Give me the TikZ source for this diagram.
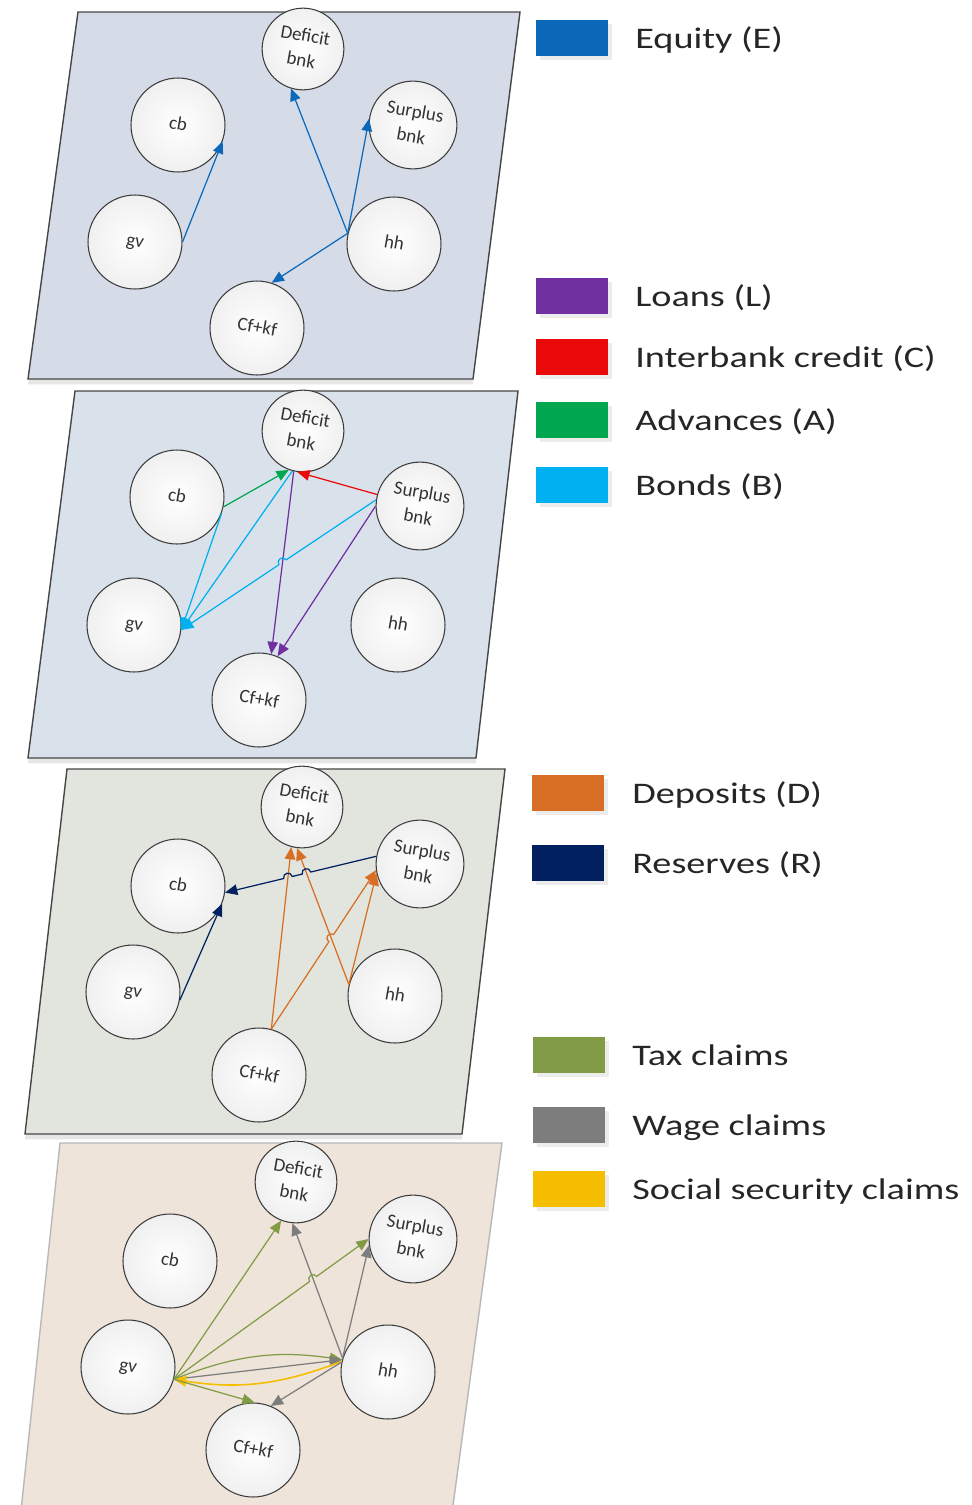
\documentclass[tikz,border=0pt]{standalone}
\usepackage{fontspec}
\setmainfont{Carlito}
\newfontfamily\legendfont[FakeStretch=1.28]{Carlito}
\usepackage{graphicx}
\usepackage{tikz}
\usetikzlibrary{arrows.meta, calc, intersections, shadows}
\definecolor{panelone}{RGB}{214,219,232}
\definecolor{paneltwo}{RGB}{217,225,235}
\definecolor{panelthree}{RGB}{226,229,221}
\definecolor{panelfour}{RGB}{239,228,217}
\definecolor{panelline}{RGB}{70,70,70}
\definecolor{circline}{RGB}{60,60,60}
\definecolor{equitycolor}{RGB}{12,104,184}
\definecolor{loancolor}{RGB}{112,48,160}
\definecolor{interbankcolor}{RGB}{235,10,10}
\definecolor{advancecolor}{RGB}{0,166,80}
\definecolor{bondcolor}{RGB}{0,176,240}
\definecolor{depositcolor}{RGB}{215,110,35}
\definecolor{reservecolor}{RGB}{0,32,96}
\definecolor{taxcolor}{RGB}{130,155,70}
\definecolor{wagecolor}{RGB}{125,125,125}
\definecolor{socialcolor}{RGB}{245,190,0}

% tilted label inside a circle
\newcommand{\tilt}[1]{\rotatebox{-10}{\begin{tabular}{@{}c@{}}#1\end{tabular}}}
% line jump at a crossing: name, crossing, from, to, side (90 or 270)
\newcommand{\jumpat}[5]{%
    \coordinate (#1s) at ($(#2)!2.5pt!(#3)$);
    \coordinate (#1e) at ($(#2)!2.5pt!(#4)$);
    \coordinate (#1a) at ($(#1s)!3.3pt!#5:(#2)$);
    \coordinate (#1b) at ($(#1e)!3.3pt!-#5:(#2)$);
}

\begin{document}
\begin{tikzpicture}[
    x=0.02cm, y=-0.02cm,
    panel/.style={draw=panelline, line width=0.8pt, drop shadow={opacity=0.2, shadow xshift=0pt, shadow yshift=-3pt}},
    sector/.style={circle, draw=circline, line width=0.6pt, inner color=white, outer color=gray!12, minimum size=1.88cm, inner sep=0pt, text=black!80, font=\fontsize{10.8}{14.2}\selectfont},
    bank/.style={sector, minimum size=1.38cm},
    arrow/.style={-{Triangle[length=7pt, width=6pt]}, line width=0.7pt},
    swatch/.style={minimum width=1.44cm, minimum height=0.72cm, inner sep=0pt, drop shadow={opacity=0.15, shadow xshift=2pt, shadow yshift=-2pt}},
    legendtext/.style={anchor=base west, inner sep=0pt, text=black!85, font=\legendfont\fontsize{17}{20}\selectfont}
]
    \useasboundingbox (0,0) rectangle (971,1505);

    % Panels
    \path[panel, fill=panelone] (78,12) -- (520,12) -- (473,379) -- (28,379) -- cycle;
    \path[panel, fill=paneltwo] (75,391) -- (518,391) -- (476,758) -- (28,758) -- cycle;
    \path[panel, fill=panelthree] (67,769) -- (505,769) -- (462,1134) -- (25,1134) -- cycle;
    \path[panel, draw=gray!55, fill=panelfour] (60,1143) -- (502,1143) -- (451,1520) -- (20,1520) -- cycle;

    % Panel 1: equity
    \node[bank] (p1def) at (303,49) {\tilt{Deficit\\bnk}};
    \node[sector] (p1cb) at (178,125) {\tilt{cb}};
    \node[bank] (p1sur) at (413,125) {\tilt{Surplus\\bnk}};
    \node[sector] (p1gv) at (135,242) {\tilt{gv}};
    \node[sector] (p1hh) at (394,244) {\tilt{hh}};
    \node[sector] (p1cf) at (257,328) {\tilt{Cf+kf}};
    \draw[arrow, equitycolor] (p1gv.0) -- (p1cb.-20);
    \draw[arrow, equitycolor] (p1hh.167) -- (p1def.253);
    \draw[arrow, equitycolor] (p1hh.167) -- (p1sur.172);
    \draw[arrow, equitycolor] (p1hh.167) -- (p1cf.72);

    % Panel 2: loans, interbank credit, advances, bonds
    \node[bank] (p2def) at (303,431) {\tilt{Deficit\\bnk}};
    \node[sector] (p2cb) at (177,497) {\tilt{cb}};
    \node[bank] (p2sur) at (420,506) {\tilt{Surplus\\bnk}};
    \node[sector] (p2gv) at (134,625) {\tilt{gv}};
    \node[sector] (p2hh) at (398,625) {\tilt{hh}};
    \node[sector] (p2cf) at (259,700) {\tilt{Cf+kf}};
    \draw[arrow, advancecolor] (p2cb.-12) -- (p2def.250);
    \draw[arrow, interbankcolor] (p2sur.165) -- (p2def.262);
    \draw[arrow, bondcolor] (p2def.255) -- (p2gv.-6);
    \draw[arrow, bondcolor] (p2cb.-20) -- (p2gv.-6);
    \draw[arrow, loancolor, name path=p2dc] (p2def.257) -- (p2cf.75);
    \draw[arrow, loancolor] (p2sur.180) -- (p2cf.67);
    \path[name path=p2sg] (p2sur.172) -- (p2gv.-6);
    \path[name intersections={of=p2sg and p2dc, by=x1}];
    \jumpat{ja}{x1}{p2sur.172}{p2gv.-6}{270}
    \draw[arrow, bondcolor] (p2sur.172) -- (jas) .. controls (jaa) and (jab) .. (jae) -- (p2gv.-6);

    % Panel 3: deposits, reserves
    \node[bank] (p3def) at (302,807) {\tilt{Deficit\\bnk}};
    \node[sector] (p3cb) at (178,886) {\tilt{cb}};
    \node[bank] (p3sur) at (420,864) {\tilt{Surplus\\bnk}};
    \node[sector] (p3gv) at (133,992) {\tilt{gv}};
    \node[sector] (p3hh) at (395,996) {\tilt{hh}};
    \node[sector] (p3cf) at (259,1075) {\tilt{Cf+kf}};
    \draw[arrow, reservecolor] (p3gv.-10) -- (p3cb.-22);
    \draw[arrow, depositcolor, name path=p3hd] (p3hh.166) -- (p3def.263);
    \draw[arrow, depositcolor, name path=p3cd] (p3cf.75) -- (p3def.255);
    \draw[arrow, depositcolor] (p3hh.166) -- (p3sur.192);
    \path[name path=p3cs] (p3cf.75) -- (p3sur.188);
    \path[name intersections={of=p3cs and p3hd, by=x2}];
    \jumpat{jb}{x2}{p3cf.75}{p3sur.188}{90}
    \draw[arrow, depositcolor] (p3cf.75) -- (jbs) .. controls (jba) and (jbb) .. (jbe) -- (p3sur.188);
    \path[name path=p3sc] (p3sur.170) -- (p3cb.-8);
    \path[name intersections={of=p3sc and p3hd, by=x3}];
    \path[name intersections={of=p3sc and p3cd, by=x4}];
    \jumpat{jc}{x3}{p3sur.170}{p3cb.-8}{270}
    \jumpat{jd}{x4}{p3sur.170}{p3cb.-8}{270}
    \draw[arrow, reservecolor] (p3sur.170) -- (jcs) .. controls (jca) and (jcb) .. (jce)
        -- (jds) .. controls (jda) and (jdb) .. (jde) -- (p3cb.-8);

    % Panel 4: tax, wage and social security claims
    \node[bank] (p4def) at (296,1182) {\tilt{Deficit\\bnk}};
    \node[sector] (p4cb) at (170,1261) {\tilt{cb}};
    \node[bank] (p4sur) at (413,1239) {\tilt{Surplus\\bnk}};
    \node[sector] (p4gv) at (128,1367) {\tilt{gv}};
    \node[sector] (p4hh) at (388,1372) {\tilt{hh}};
    \node[sector] (p4cf) at (253,1450) {\tilt{Cf+kf}};
    \draw[arrow, taxcolor] (p4gv.-15) -- (p4def.249);
    \draw[arrow, wagecolor, name path=p4hd] (p4hh.163) -- (p4def.265);
    \draw[arrow, wagecolor] (p4hh.163) -- (p4sur.188);
    \draw[arrow, taxcolor] (p4gv.-15) to[bend left=15] (p4hh.165);
    \draw[arrow, wagecolor] (p4gv.-15) -- (p4hh.165);
    \draw[arrow, socialcolor, line width=0.9pt] (p4hh.167) to[bend left=15] (p4gv.-15);
    \draw[arrow, taxcolor] (p4gv.-15) -- (p4cf.88);
    \draw[arrow, wagecolor] (p4hh.168) -- (p4cf.68);
    \path[name path=p4gs] (p4gv.-15) -- (p4sur.180);
    \path[name intersections={of=p4gs and p4hd, by=x5}];
    \jumpat{je}{x5}{p4gv.-15}{p4sur.180}{90}
    \draw[arrow, taxcolor] (p4gv.-15) -- (jes) .. controls (jea) and (jeb) .. (jee) -- (p4sur.180);

    % Legend
    \node[swatch, fill=equitycolor] (swE) at (572,38) {};
    \node[legendtext] (txtE) at (635,48) {Equity (E)};
    \node[swatch, fill=loancolor] (swL) at (572,296) {};
    \node[legendtext] (txtL) at (635,306) {Loans (L)};
    \node[swatch, fill=interbankcolor] (swC) at (572,357) {};
    \node[legendtext] (txtC) at (635,367) {Interbank credit (C)};
    \node[swatch, fill=advancecolor] (swA) at (572,420) {};
    \node[legendtext] (txtA) at (635,430) {Advances (A)};
    \node[swatch, fill=bondcolor] (swB) at (572,485) {};
    \node[legendtext] (txtB) at (635,495) {Bonds (B)};
    \node[swatch, fill=depositcolor] (swD) at (568,793) {};
    \node[legendtext] (txtD) at (632,803) {Deposits (D)};
    \node[swatch, fill=reservecolor] (swR) at (568,863) {};
    \node[legendtext] (txtR) at (632,873) {Reserves (R)};
    \node[swatch, fill=taxcolor] (swT) at (569,1055) {};
    \node[legendtext] (txtT) at (632,1065) {Tax claims};
    \node[swatch, fill=wagecolor] (swW) at (569,1125) {};
    \node[legendtext] (txtW) at (632,1135) {Wage claims};
    \node[swatch, fill=socialcolor] (swS) at (569,1189) {};
    \node[legendtext] (txtS) at (632,1199) {Social security claims};
\end{tikzpicture}
\end{document}
